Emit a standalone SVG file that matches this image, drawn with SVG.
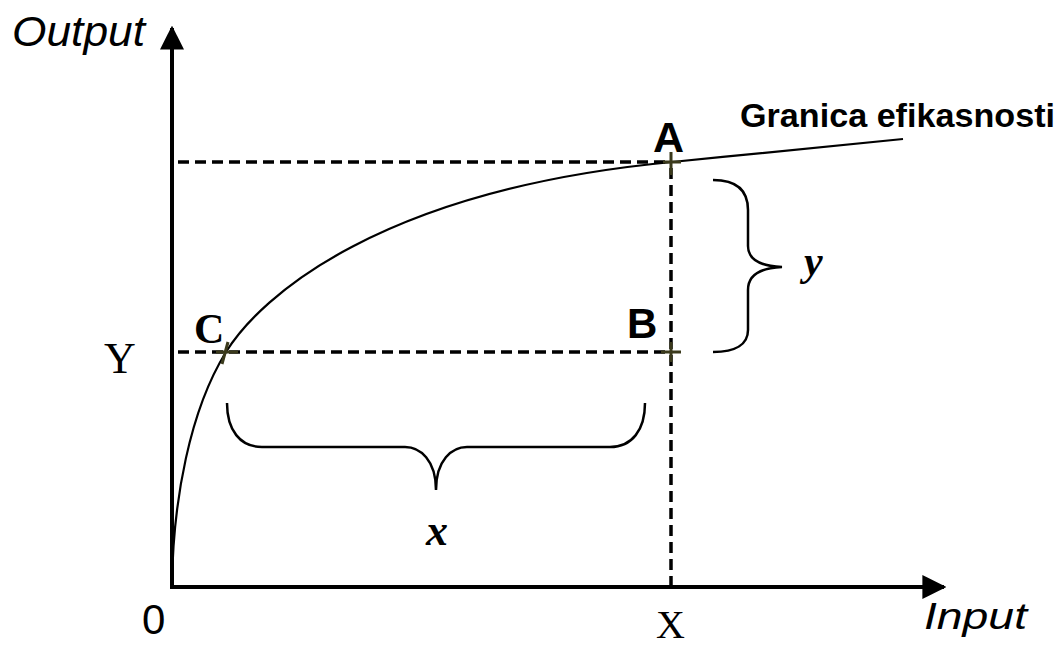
<svg xmlns="http://www.w3.org/2000/svg" width="1064" height="650" viewBox="0 0 1064 650">
<style>
.axis{stroke:#000;stroke-width:4;fill:none}
.dash{stroke:#000;stroke-width:3.5;stroke-dasharray:11 6;fill:none}
.curve{stroke:#000;stroke-width:2.2;fill:none}
.brace{stroke:#000;stroke-width:2.5;fill:none}
.cross{stroke:#3b3a1c;stroke-width:3;fill:none}
.sans{font-family:"Liberation Sans",Arial,sans-serif;fill:#000}
.serif{font-family:"Liberation Serif","Times New Roman",serif;fill:#000}
</style>
<defs>
<marker id="arr" viewBox="0 0 10 10" refX="9" refY="5" markerWidth="6" markerHeight="6" markerUnits="strokeWidth" orient="auto">
<path d="M0,0 L10,5 L0,10 Z" fill="#000"/>
</marker>
</defs>
<rect width="1064" height="650" fill="#fff"/>
<g id="connectors">
<line class="axis" x1="172" y1="589" x2="172" y2="28" marker-end="url(#arr)"/>
<line class="axis" x1="170" y1="587" x2="944" y2="587" marker-end="url(#arr)"/>
<line class="dash" x1="178" y1="162" x2="671" y2="162"/>
<line class="dash" x1="178" y1="352" x2="671" y2="352"/>
<line class="dash" x1="671" y1="168" x2="671" y2="585"/>
<path id="frontier" class="curve" d="M172,585 C173,500 190,410 226,352 C261,296 380,190 672,162 C750,154 830,147 903,139"/>
<path class="brace" d="M713,180 C736,180 748,190 748,210 L748,246 C748,258 758,266 782,267 C758,268 748,276 748,290 L748,330 C748,344 736,352 713,352"/>
<path class="brace" d="M227,403 C227,430 240,447 262,447 L405,447 C420,447 436,460 436,490 C436,460 452,447 467,447 L610,447 C632,447 645,430 645,403"/>
</g>
<g id="point-A">
<path class="cross" d="M663,162 L681,162 M671,152 L671,175"/>
<text class="sans" x="653" y="152" font-size="43" font-weight="bold">A</text>
</g>
<g id="point-B">
<path class="cross" d="M661,352 L681,352 M671,342 L671,362"/>
<text class="sans" x="627" y="338" font-size="42" font-weight="bold">B</text>
</g>
<g id="point-C">
<path class="cross" d="M216,352 L238,352 M228,342 L222,364"/>
<text class="serif" x="194" y="343" font-size="42" font-weight="bold">C</text>
</g>
<g id="labels">
<text class="sans" x="12" y="46" font-size="42" font-style="italic" textLength="133" lengthAdjust="spacingAndGlyphs">Output</text>
<text class="sans" x="924" y="629" font-size="37" font-style="italic" textLength="103" lengthAdjust="spacingAndGlyphs">Input</text>
<text class="sans" x="740" y="127" font-size="33" font-weight="bold" textLength="315" lengthAdjust="spacingAndGlyphs">Granica efikasnosti</text>
<text class="serif" x="104" y="373" font-size="44">Y</text>
<text class="serif" x="656" y="638" font-size="40">X</text>
<text class="sans" x="142" y="634" font-size="42">0</text>
<text class="serif" x="804" y="275" font-size="42" font-weight="bold" font-style="italic">y</text>
<text class="serif" x="426" y="545" font-size="44" font-weight="bold" font-style="italic">x</text>
</g>
</svg>
